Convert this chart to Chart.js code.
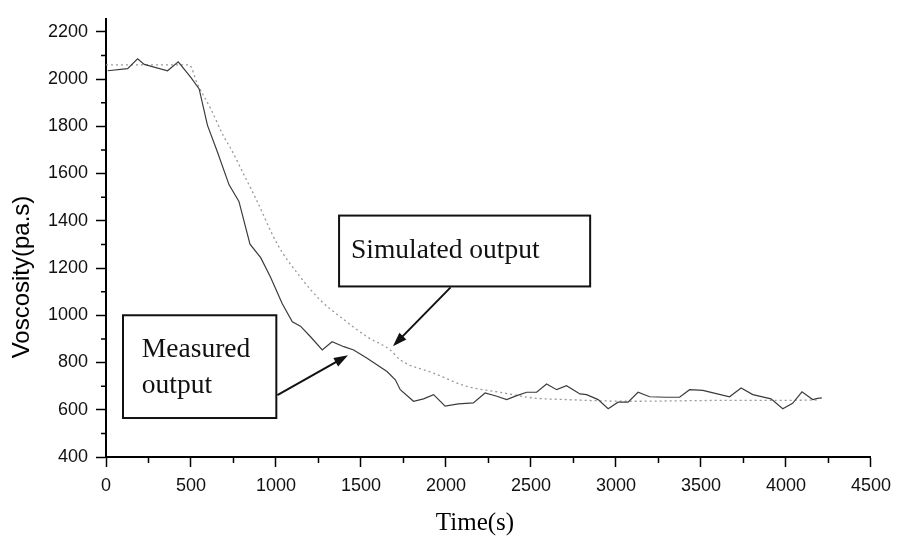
<!DOCTYPE html>
<html>
<head>
<meta charset="utf-8">
<script src="https://cdn.jsdelivr.net/npm/chart.js@4.4.1/dist/chart.umd.min.js"></script>
<style>
  html, body { margin: 0; padding: 0; background: #fff; }
  #wrap { width: 899px; height: 546px; }
</style>
</head>
<body>
<div id="wrap"><canvas id="myChart" width="899" height="546"></canvas></div>
<script>
// measured viscosity
const measuredTime = [10, 127, 186, 225, 362, 425, 499, 548, 597, 655, 724, 782, 847, 910, 968, 1037, 1096, 1144, 1203, 1272, 1330, 1399, 1457, 1536, 1653, 1702, 1731, 1809, 1868, 1927, 1995, 2073, 2161, 2230, 2299, 2357, 2416, 2475, 2533, 2592, 2651, 2709, 2788, 2827, 2895, 2954, 3012, 3071, 3130, 3198, 3296, 3374, 3433, 3511, 3590, 3668, 3736, 3805, 3912, 3981, 4039, 4094, 4157, 4186, 4211];
const measuredVisc = [2035, 2044, 2086, 2062, 2035, 2073, 2007, 1958, 1804, 1692, 1552, 1482, 1301, 1244, 1161, 1049, 972, 954, 909, 853, 888, 867, 853, 818, 762, 727, 685, 636, 646, 664, 615, 625, 629, 671, 657, 643, 660, 674, 674, 709, 685, 702, 667, 664, 643, 604, 632, 632, 674, 655, 653, 653, 685, 682, 668, 655, 692, 664, 646, 604, 627, 676, 643, 648, 650];

// simulated viscosity
const simulatedTime = [0, 100, 200, 300, 400, 489, 538, 616, 694, 734, 812, 880, 1008, 1144, 1262, 1379, 1536, 1672, 1731, 1927, 2122, 2318, 2514, 2709, 2900, 3099, 3400, 3700, 4000, 4196];
const simulatedVisc = [2060, 2060, 2060, 2060, 2060, 2060, 1979, 1874, 1755, 1706, 1594, 1496, 1301, 1161, 1063, 993, 909, 853, 811, 755, 699, 674, 650, 643, 638, 636, 638, 640, 640, 641];

// axis ticks
const xMajorTicks = [0, 500, 1000, 1500, 2000, 2500, 3000, 3500, 4000, 4500];
const xMinorTicks = [250, 750, 1250, 1750, 2250, 2750, 3250, 3750, 4250];
const yMajorTicks = [400, 600, 800, 1000, 1200, 1400, 1600, 1800, 2000, 2200];
const yMinorTicks = [500, 700, 900, 1100, 1300, 1500, 1700, 1900, 2100];

const xTitle = "Time(s)";
const yTitle = "Voscosity(pa.s)";

// callout boxes, in data units
const notes = [
  { lines: ["Simulated output"], box: [1371, 1422, 2848, 1122], text: [1441, 1244], lineGap: 0,
    arrow: [2027, 1118, 1688, 869] },
  { lines: ["Measured", "output"], box: [100, 1000, 1002, 565], text: [211, 822], lineGap: 36,
    arrow: [1008, 662, 1424, 831] },
];

const toPoints = (xs, ys) => xs.map((x, i) => ({ x, y: ys[i] }));

const extras = {
  id: "extras",
  afterDraw(chart) {
    const c = chart.ctx;
    const xs = chart.scales.x;
    const ys = chart.scales.y;
    const area = chart.chartArea;

    c.save();
    // minor ticks
    c.strokeStyle = "#000";
    c.lineWidth = 1.5;
    c.beginPath();
    yMinorTicks.forEach((v) => {
      const py = ys.getPixelForValue(v);
      c.moveTo(area.left - 5, py);
      c.lineTo(area.left, py);
    });
    xMinorTicks.forEach((v) => {
      const px = xs.getPixelForValue(v);
      c.moveTo(px, area.bottom);
      c.lineTo(px, area.bottom + 6);
    });
    c.stroke();

    // axis titles
    c.fillStyle = "#000";
    c.textAlign = "center";
    c.textBaseline = "middle";
    c.font = "25px 'Liberation Serif'";
    c.fillText(xTitle, 475, 523);
    c.translate(22, 277);
    c.rotate(-Math.PI / 2);
    c.font = "24px 'Liberation Sans'";
    c.fillText(yTitle, 0, 0);
    c.restore();

    // callouts
    c.save();
    notes.forEach((n) => {
      const x1 = xs.getPixelForValue(n.box[0]);
      const y1 = ys.getPixelForValue(n.box[1]);
      const x2 = xs.getPixelForValue(n.box[2]);
      const y2 = ys.getPixelForValue(n.box[3]);
      c.fillStyle = "#fff";
      c.fillRect(x1, y1, x2 - x1, y2 - y1);
      c.strokeStyle = "#111";
      c.lineWidth = 2;
      c.strokeRect(x1, y1, x2 - x1, y2 - y1);

      c.fillStyle = "#111";
      c.font = "27.5px 'Liberation Serif'";
      c.textAlign = "left";
      c.textBaseline = "alphabetic";
      const tx = xs.getPixelForValue(n.text[0]);
      const ty = ys.getPixelForValue(n.text[1]);
      n.lines.forEach((line, i) => c.fillText(line, tx, ty + i * n.lineGap));

      // arrow
      const ax = xs.getPixelForValue(n.arrow[0]);
      const ay = ys.getPixelForValue(n.arrow[1]);
      const bx = xs.getPixelForValue(n.arrow[2]);
      const by = ys.getPixelForValue(n.arrow[3]);
      const ang = Math.atan2(by - ay, bx - ax);
      const head = 15;
      c.beginPath();
      c.moveTo(ax, ay);
      c.lineTo(bx - Math.cos(ang) * head * 0.8, by - Math.sin(ang) * head * 0.8);
      c.stroke();
      c.beginPath();
      c.moveTo(bx, by);
      c.lineTo(bx - head * Math.cos(ang - 0.33), by - head * Math.sin(ang - 0.33));
      c.lineTo(bx - head * Math.cos(ang + 0.33), by - head * Math.sin(ang + 0.33));
      c.closePath();
      c.fill();
    });
    c.restore();
  },
};

const ctx = document.getElementById("myChart");

new Chart(ctx, {
  type: "line",
  data: {
    datasets: [
      {
        label: "Measured output",
        data: toPoints(measuredTime, measuredVisc),
        borderColor: "#3c3c3c",
        borderWidth: 1.2,
        pointRadius: 0,
        tension: 0,
      },
      {
        label: "Simulated output",
        data: toPoints(simulatedTime, simulatedVisc),
        borderColor: "#9a9a9a",
        borderWidth: 1.3,
        borderDash: [2, 3],
        pointRadius: 0,
        cubicInterpolationMode: "monotone",
      },
    ],
  },
  options: {
    responsive: false,
    animation: false,
    layout: { padding: { left: 0, right: 25, top: 0, bottom: 0 } },
    plugins: { legend: { display: false }, tooltip: { enabled: false } },
    scales: {
      x: {
        type: "linear",
        min: 0,
        max: 4500,
        afterFit: (scale) => { scale.height = 89; },
        afterBuildTicks: (scale) => { scale.ticks = xMajorTicks.map((value) => ({ value })); },
        ticks: {
          padding: 8,
          color: "#111",
          font: { family: "'Liberation Sans'", size: 18 },
          callback: (value) => String(value),
        },
        grid: {
          drawOnChartArea: false,
          tickLength: 10,
          tickColor: "#000",
          tickWidth: 1.5,
        },
        border: { color: "#000", width: 2 },
      },
      y: {
        min: 400,
        max: 2255,
        afterFit: (scale) => { scale.width = 106; },
        afterBuildTicks: (scale) => { scale.ticks = yMajorTicks.map((value) => ({ value })); },
        ticks: {
          padding: 8,
          color: "#111",
          font: { family: "'Liberation Sans'", size: 18 },
          callback: (value) => String(value),
        },
        grid: {
          drawOnChartArea: false,
          tickLength: 10,
          tickColor: "#000",
          tickWidth: 1.5,
        },
        border: { color: "#000", width: 2 },
      },
    },
  },
  plugins: [extras],
});
</script>
</body>
</html>
